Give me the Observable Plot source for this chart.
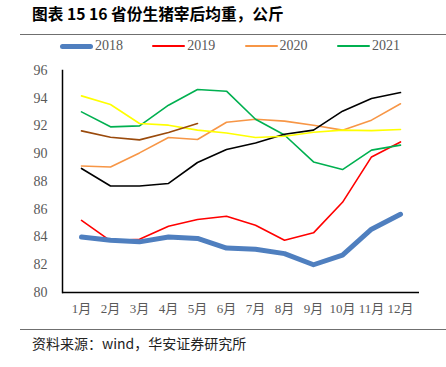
<!DOCTYPE html>
<html><head><meta charset="utf-8">
<script src="https://cdn.jsdelivr.net/npm/d3@7"></script>
<script src="https://cdn.jsdelivr.net/npm/@observablehq/plot@0.6"></script>
<style>
body{margin:0;background:#fff;width:446px;height:367px;position:relative;overflow:hidden;font-family:"Noto Sans CJK SC",sans-serif}
#title{position:absolute;left:32px;top:4px;font-size:15.7px;font-weight:bold;color:#000;white-space:nowrap;line-height:20px}
.rule{position:absolute;left:20px;width:426px;height:1px;background:#6f6f6f}
#chart{position:absolute;left:0;top:0}
.item{position:absolute;top:37px;height:18px;display:flex;align-items:center;font-family:"Liberation Serif",serif;font-size:14px;color:#595959}
.sw{width:33px;margin-right:2px;border-radius:3px}
#source{position:absolute;left:32px;top:334px;font-size:14px;color:#222;white-space:nowrap;line-height:18px}
</style></head>
<body>
<div id="title">图表 15 16 省份生猪宰后均重，公斤</div>
<div class="rule" style="top:34px"></div>
<div id="legend"></div>
<div id="chart"></div>
<div class="rule" style="top:329px"></div>
<div id="source">资料来源：wind，华安证券研究所</div>
<script>
const months = ["1月","2月","3月","4月","5月","6月","7月","8月","9月","10月","11月","12月"];
const yTicks = [80,82,84,86,88,90,92,94,96];
const v2018 = [84.0, 83.77, 83.65, 84.0, 83.9, 83.2, 83.12, 82.8, 82.0, 82.7, 84.56, 85.64];
const v2019 = [85.2, 83.72, 83.84, 84.78, 85.26, 85.5, 84.85, 83.77, 84.3, 86.5, 89.77, 90.85];
const v2020 = [89.12, 89.05, 90.06, 91.17, 91.03, 92.27, 92.49, 92.35, 92.05, 91.7, 92.42, 93.6];
const v2021 = [93.02, 91.94, 92.01, 93.5, 94.63, 94.51, 92.49, 91.35, 89.41, 88.86, 90.26, 90.62];
const vBlack = [88.94, 87.68, 87.68, 87.86, 89.37, 90.3, 90.78, 91.41, 91.7, 93.07, 93.98, 94.41];
const vYellow = [94.17, 93.55, 92.18, 92.06, 91.7, 91.5, 91.17, 91.26, 91.55, 91.7, 91.67, 91.75];
const vBrown = [91.65, 91.19, 91.0, 91.53, 92.18];

const series = [
  {name:"2018", values:v2018, color:"#4f7fbf", width:5, legend:true},
  {name:"2019", values:v2019, color:"#ff0000", width:1.6, legend:true},
  {name:"2020", values:v2020, color:"#f79646", width:1.6, legend:true},
  {name:"2021", values:v2021, color:"#00b050", width:1.6, legend:true},
  {name:"black", values:vBlack, color:"#000000", width:1.6, legend:false},
  {name:"yellow", values:vYellow, color:"#ffff00", width:1.6, legend:false},
  {name:"brown", values:vBrown, color:"#9a4a0c", width:1.6, legend:false}
];

const leg = document.getElementById("legend");
series.filter(s => s.legend).forEach((s, i) => {
  const d = document.createElement("div");
  d.className = "item";
  d.style.left = (60 + i * 92.3) + "px";
  d.innerHTML = `<div class="sw" style="height:${s.width < 3 ? 2 : 5}px;background:${s.color}"></div>${s.name}`;
  leg.appendChild(d);
});

const lineMarks = [1, 2, 3, 4, 5, 6, 0].map(i => {
  const s = series[i];
  const data = s.values.map((v, j) => ({month: months[j], value: v}));
  return Plot.line(data, {x:"month", y:"value", stroke:s.color, strokeWidth:s.width,
    strokeLinecap:"round", strokeLinejoin:"round"});
});

const chart = Plot.plot({
  width: 446, height: 367,
  marginLeft: 62, marginRight: 27, marginTop: 70, marginBottom: 75,
  x: {type:"point", domain: months, padding: 0.5},
  y: {domain: [80, 96]},
  marks: [
    Plot.axisY({ticks: yTicks, tickSize: 0, tickPadding: 15, fontSize: 14, fontFamily: "Liberation Serif, serif", fill: "#595959", label: null}),
    Plot.axisX({tickSize: 0, tickPadding: 11, fontSize: 13, fontFamily: "Liberation Serif, Noto Sans CJK SC, serif", fill: "#595959", label: null}),
    ...lineMarks,
    Plot.frame({anchor: "left", stroke: "#000", strokeWidth: 1.5}),
    Plot.ruleY([80], {stroke: "#000", strokeWidth: 1.5})
  ]
});
document.getElementById("chart").appendChild(chart);
</script>
</body></html>
